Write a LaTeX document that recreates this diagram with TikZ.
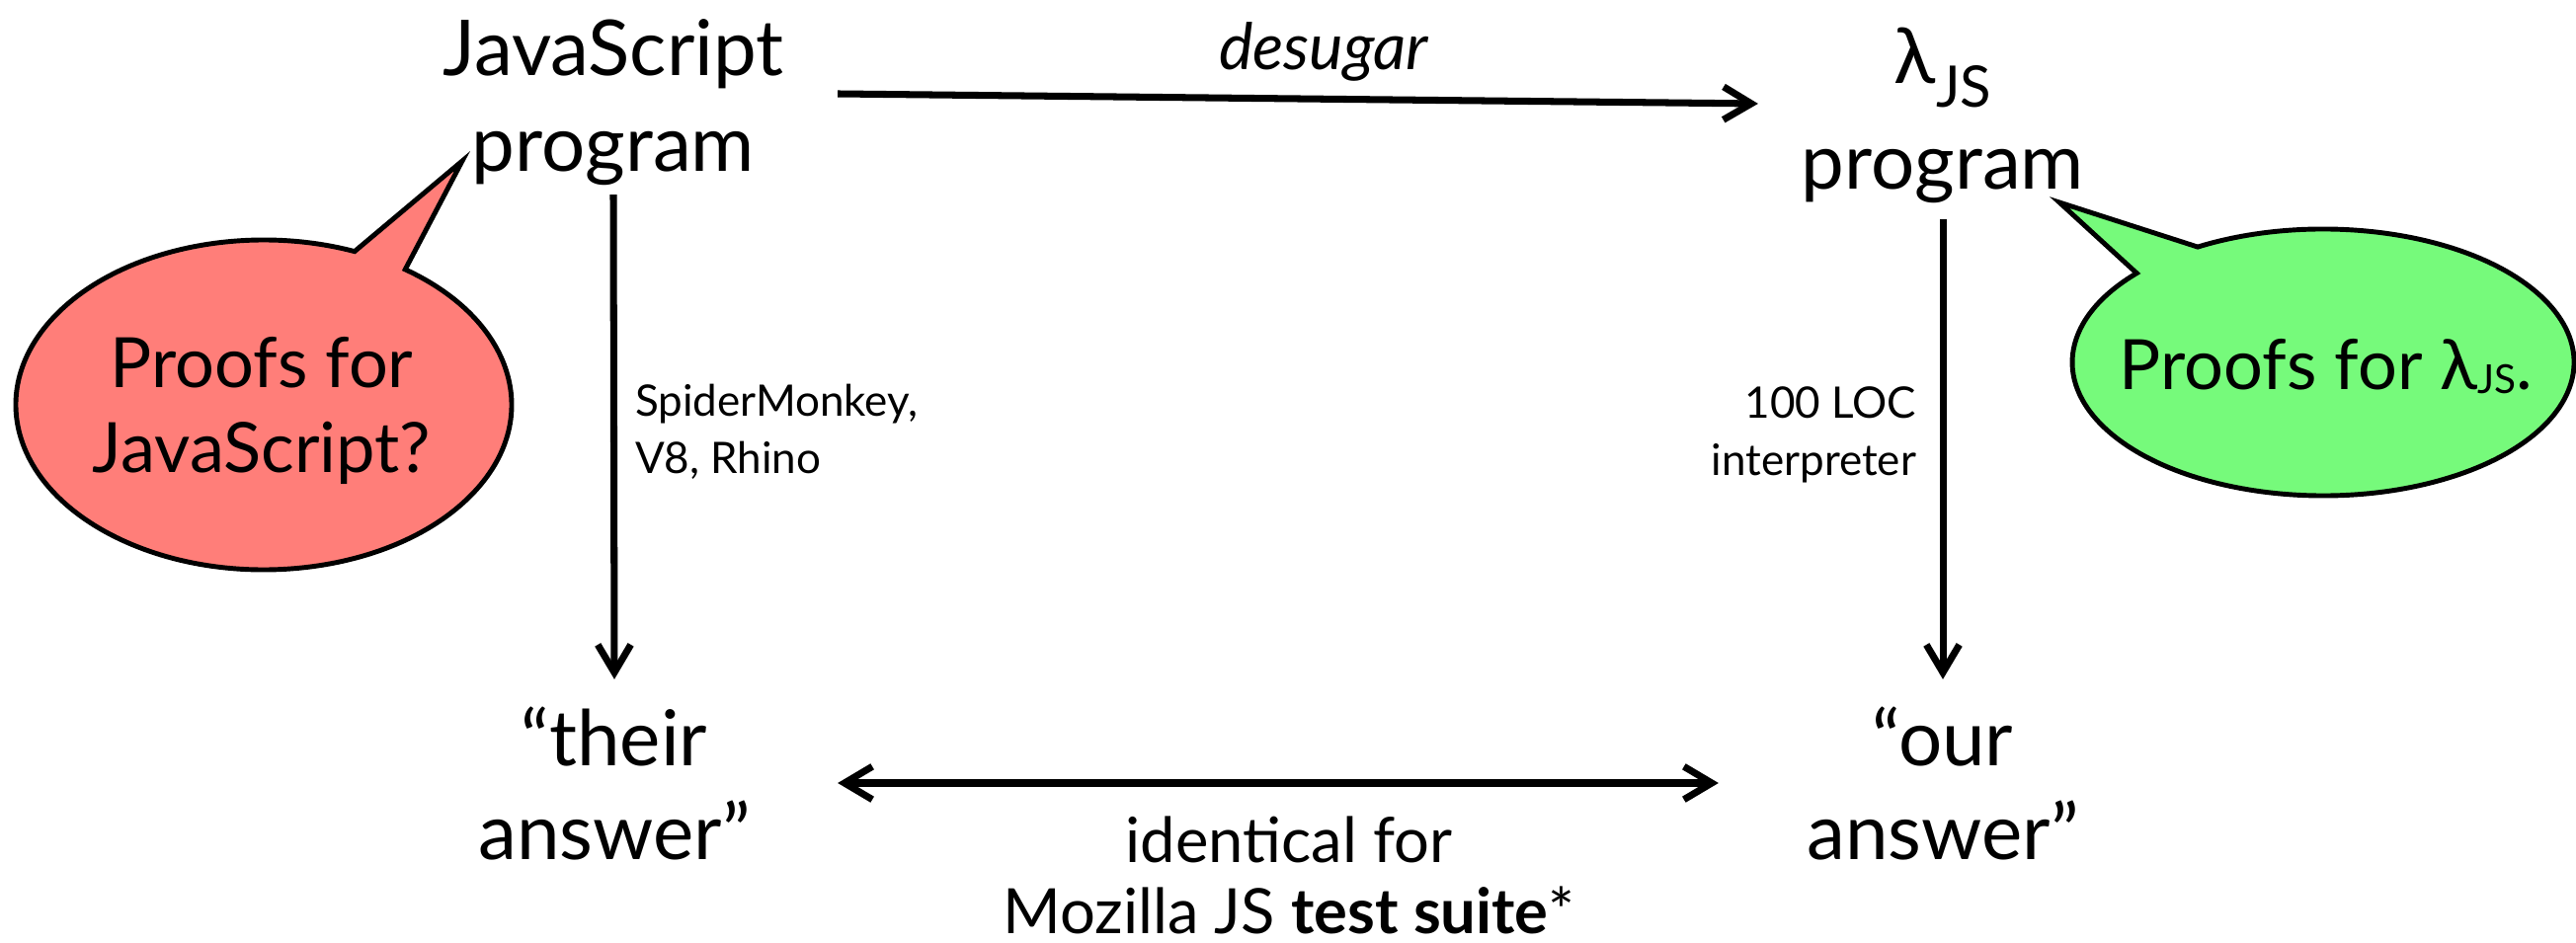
\documentclass[tikz,border=0pt]{standalone}
\usepackage{fontspec}
\setmainfont{Lato}
\usetikzlibrary{arrows.meta,calc}
\definecolor{bubred}{RGB}{255,126,121}
\definecolor{bubgreen}{RGB}{118,250,123}
\begin{document}
\begin{tikzpicture}[x=0.01cm,y=-0.01cm,
  big/.style={inner sep=0pt, outer sep=0pt, align=center, font=\fontsize{22.2}{27.6}\selectfont},
  small/.style={inner sep=0pt, outer sep=0pt, font=\fontsize{12.5}{16.5}\selectfont},
  tipb/.tip={Straight Barb[length=8pt,width=9.5pt]},
  arr/.style={line width=2pt, -tipb},
  darr/.style={line width=2pt, tipb-tipb},
  bubble/.style={line width=1.4pt, draw=black, line join=miter}
]
\useasboundingbox (0,0) rectangle (2608,955);

% speech bubbles
\draw[bubble, fill=bubred] (267,410) ++(-55.2:251 and 167)
  arc[start angle=-55.2, end angle=291.5, x radius=251, y radius=167]
  -- (468,163) -- cycle;
\draw[bubble, fill=bubgreen] (2352,367) ++(-120:254 and 135)
  arc[start angle=-120, end angle=222, x radius=254, y radius=135]
  -- (2085,205) -- cycle;

% main nodes
\node[big, minimum width=4.54cm, minimum height=1.86cm] (js) at (621,104) {JavaScript\\program};
\node[big, minimum width=3.74cm, minimum height=2.10cm] (lam) at (1967,117)
  {λ\raisebox{-7pt}{\fontsize{16.5}{16.5}\selectfont JS}\\[3pt]program};
\node[big, font=\fontsize{22.2}{27}\selectfont, minimum width=4.52cm, minimum height=2.10cm] (their) at (622,793) {“their\\answer”};
\node[big, font=\fontsize{22.2}{27}\selectfont, minimum width=4.54cm, minimum height=2.10cm] (our) at (1967,793) {“our\\answer”};

% bubble texts
\node[inner sep=0pt, align=center, font=\fontsize{20}{24.2}\selectfont] (pj) at (265,416) {Proofs for\\JavaScript?};
\node[inner sep=0pt, anchor=base, font=\fontsize{20}{24}\selectfont] (pl) at (2355,395)
  {Proofs for λ\raisebox{-1pt}{\fontsize{11.5}{11.5}\selectfont JS}.};

% connectors
\draw[arr] ([yshift=0.09cm]js.east) -- ([yshift=0.12cm]lam.west);
\draw[arr] (js.south) -- (their.north);
\draw[arr] (lam.south) -- (our.north);
\draw[darr] (their.east) -- (our.west);

% labels
\node[inner sep=0pt, anchor=base, font=\itshape\fontsize{18.5}{20}\selectfont] (ds) at (1340,71) {desugar};
\node[small, align=left, anchor=west] (sm) at (643,437) {SpiderMonkey,\\V8, Rhino};
\node[small, align=right, anchor=east] (loc) at (1940,440) {100 LOC\\interpreter};
\node[inner sep=0pt, align=center, font=\fontsize{18}{20.5}\selectfont] (id) at (1305,886)
  {identical for\\Mozilla JS \textbf{test suite}*};
\end{tikzpicture}
\end{document}
